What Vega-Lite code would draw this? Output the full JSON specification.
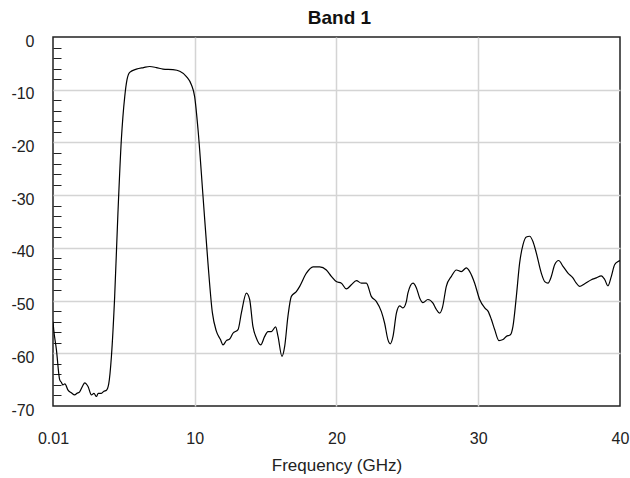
{
  "$schema": "https://vega.github.io/schema/vega-lite/v6.json",
  "width": 567,
  "height": 369,
  "autosize": {"type": "none"},
  "padding": {"left": 53, "top": 37, "right": 10, "bottom": 72},
  "background": "white",
  "title": {"text": "Band 1", "font": "Liberation Sans", "fontSize": 19, "fontWeight": "bold", "color": "#111", "anchor": "middle", "offset": 5, "dx": 3},
  "config": {
    "view": {"stroke": "#222", "strokeWidth": 1.5},
    "axis": {"labelFont": "Liberation Sans", "titleFont": "Liberation Sans", "labelColor": "#222", "titleColor": "#222", "titleFontWeight": "normal"}
  },
  "data": {"values": [
    {"f": 0.01, "db": -54}, {"f": 0.06, "db": -55.5}, {"f": 0.25, "db": -59.3}, {"f": 0.48, "db": -65}, {"f": 0.6, "db": -65.5},
    {"f": 0.71, "db": -66}, {"f": 0.85, "db": -65.8}, {"f": 1.07, "db": -67}, {"f": 1.3, "db": -67.5}, {"f": 1.54, "db": -67.9},
    {"f": 1.7, "db": -67.6}, {"f": 1.89, "db": -67.3}, {"f": 2.1, "db": -66.2}, {"f": 2.25, "db": -65.6}, {"f": 2.35, "db": -65.8},
    {"f": 2.48, "db": -66.3}, {"f": 2.72, "db": -67.9}, {"f": 2.9, "db": -67.6}, {"f": 3.07, "db": -68.2}, {"f": 3.2, "db": -67.6},
    {"f": 3.42, "db": -67.6}, {"f": 3.6, "db": -67.2}, {"f": 3.78, "db": -67}, {"f": 3.94, "db": -65.8}, {"f": 4.13, "db": -60.6},
    {"f": 4.36, "db": -49.2}, {"f": 4.59, "db": -33.4}, {"f": 4.83, "db": -19.5}, {"f": 5.07, "db": -11.3}, {"f": 5.23, "db": -8.1},
    {"f": 5.42, "db": -6.7}, {"f": 5.89, "db": -6.1}, {"f": 6.4, "db": -5.8}, {"f": 6.83, "db": -5.6}, {"f": 7.3, "db": -5.8},
    {"f": 7.77, "db": -6.1}, {"f": 8.47, "db": -6.2}, {"f": 8.95, "db": -6.5}, {"f": 9.42, "db": -7.5}, {"f": 9.77, "db": -9.05},
    {"f": 10.0, "db": -11.3}, {"f": 10.24, "db": -17.6}, {"f": 10.59, "db": -30.2}, {"f": 10.94, "db": -42.9}, {"f": 11.25, "db": -52.3},
    {"f": 11.53, "db": -55.8}, {"f": 11.82, "db": -57.4}, {"f": 12.0, "db": -58.4}, {"f": 12.24, "db": -57.6}, {"f": 12.47, "db": -57.3},
    {"f": 12.7, "db": -56.2}, {"f": 13.06, "db": -55.5}, {"f": 13.3, "db": -52.3}, {"f": 13.65, "db": -48.6}, {"f": 13.88, "db": -49.8},
    {"f": 14.11, "db": -54.9}, {"f": 14.35, "db": -57.1}, {"f": 14.66, "db": -58.4}, {"f": 14.94, "db": -56.8}, {"f": 15.17, "db": -55.9},
    {"f": 15.41, "db": -55.9}, {"f": 15.71, "db": -55.0}, {"f": 15.88, "db": -56.8}, {"f": 16.16, "db": -60.6}, {"f": 16.35, "db": -58.7},
    {"f": 16.58, "db": -53.0}, {"f": 16.82, "db": -49.2}, {"f": 17.17, "db": -48.3}, {"f": 17.41, "db": -47.3}, {"f": 17.88, "db": -44.8},
    {"f": 18.35, "db": -43.6}, {"f": 18.82, "db": -43.6}, {"f": 19.29, "db": -44.2}, {"f": 19.64, "db": -45.4}, {"f": 19.99, "db": -46.4},
    {"f": 20.35, "db": -46.7}, {"f": 20.7, "db": -47.8}, {"f": 21.05, "db": -47.0}, {"f": 21.41, "db": -46.2}, {"f": 21.76, "db": -46.7},
    {"f": 22.11, "db": -46.7}, {"f": 22.46, "db": -49.2}, {"f": 22.82, "db": -50.2}, {"f": 23.17, "db": -52.1}, {"f": 23.4, "db": -54.3},
    {"f": 23.63, "db": -57.4}, {"f": 23.8, "db": -58.2}, {"f": 23.99, "db": -56.8}, {"f": 24.23, "db": -52.4}, {"f": 24.46, "db": -51.0},
    {"f": 24.69, "db": -51.4}, {"f": 24.93, "db": -50.2}, {"f": 25.04, "db": -48.6}, {"f": 25.4, "db": -46.7}, {"f": 25.64, "db": -47.6},
    {"f": 25.87, "db": -49.5}, {"f": 26.1, "db": -50.4}, {"f": 26.45, "db": -49.8}, {"f": 26.81, "db": -50.5}, {"f": 27.05, "db": -51.7},
    {"f": 27.28, "db": -52.4}, {"f": 27.47, "db": -51.4}, {"f": 27.75, "db": -47.3}, {"f": 28.11, "db": -45.4}, {"f": 28.46, "db": -44.2},
    {"f": 28.81, "db": -44.5}, {"f": 29.16, "db": -43.8}, {"f": 29.4, "db": -44.5}, {"f": 29.75, "db": -46.7}, {"f": 30.1, "db": -49.8},
    {"f": 30.46, "db": -51.4}, {"f": 30.69, "db": -52.0}, {"f": 30.93, "db": -53.6}, {"f": 31.16, "db": -55.5}, {"f": 31.46, "db": -57.6},
    {"f": 31.75, "db": -57.4}, {"f": 31.98, "db": -56.8}, {"f": 32.27, "db": -56.5}, {"f": 32.45, "db": -54.9}, {"f": 32.69, "db": -49.2},
    {"f": 32.92, "db": -42.9}, {"f": 33.16, "db": -39.4}, {"f": 33.39, "db": -37.95}, {"f": 33.63, "db": -37.8}, {"f": 33.86, "db": -38.8},
    {"f": 34.1, "db": -41.0}, {"f": 34.45, "db": -44.8}, {"f": 34.69, "db": -46.4}, {"f": 34.92, "db": -46.7}, {"f": 35.16, "db": -45.4},
    {"f": 35.39, "db": -43.2}, {"f": 35.67, "db": -42.4}, {"f": 35.98, "db": -43.5}, {"f": 36.33, "db": -44.8}, {"f": 36.68, "db": -45.7},
    {"f": 36.92, "db": -46.7}, {"f": 37.15, "db": -47.3}, {"f": 37.51, "db": -46.8}, {"f": 37.98, "db": -46.05}, {"f": 38.33, "db": -45.7},
    {"f": 38.68, "db": -45.3}, {"f": 38.92, "db": -46.0}, {"f": 39.15, "db": -47.2}, {"f": 39.39, "db": -45.4}, {"f": 39.62, "db": -43.2},
    {"f": 39.86, "db": -42.6}, {"f": 40.0, "db": -42.4}
  ]},
  "layer": [
    {
      "mark": {"type": "line", "color": "black", "strokeWidth": 1.2, "interpolate": "monotone", "clip": true},
      "encoding": {
        "x": {"field": "f", "type": "quantitative", "scale": {"domain": [0.01, 40], "nice": false, "zero": false},
          "axis": {"title": "Frequency (GHz)", "titleFontSize": 17, "titlePadding": 11, "values": [0.01, 10, 20, 30, 40], "labelExpr": "'' + datum.value", "labelFontSize": 16, "labelPadding": 24, "ticks": false, "domain": false, "labelFlush": false,
            "grid": true, "gridColor": "#d4d4d4", "gridWidth": 1.5, "gridOpacity": {"condition": {"test": "datum.value > 1 && datum.value < 39", "value": 1}, "value": 0}}},
        "y": {"field": "db", "type": "quantitative", "scale": {"domain": [-70, 0], "nice": false, "zero": false},
          "axis": {"title": null, "orient": "left", "values": [-70, -60, -50, -40, -30, -20, -10, 0], "labelExpr": "'' + datum.value", "labelFontSize": 16, "labelPadding": 19, "labelOffset": 4, "labelFlush": false, "ticks": false, "domain": false,
            "grid": true, "gridColor": "#d4d4d4", "gridWidth": 1.5, "gridOpacity": {"condition": {"test": "datum.value > -69 && datum.value < -1", "value": 1}, "value": 0}}}
      }
    },
    {
      "mark": {"type": "line", "strokeOpacity": 0},
      "encoding": {
        "x": {"field": "f", "type": "quantitative"},
        "y": {"field": "db", "type": "quantitative",
          "axis": {"title": null, "orient": "left", "offset": -8, "values": [-68, -66, -64, -62, -58, -56, -54, -52, -48, -46, -44, -42, -38, -36, -34, -32, -28, -26, -24, -22, -18, -16, -14, -12, -8, -6, -4, -2], "labels": false, "domain": false, "grid": false, "ticks": true, "tickSize": 8, "tickColor": "#222", "tickWidth": 1}}
      }
    }
  ],
  "resolve": {"axis": {"y": "independent"}}
}
